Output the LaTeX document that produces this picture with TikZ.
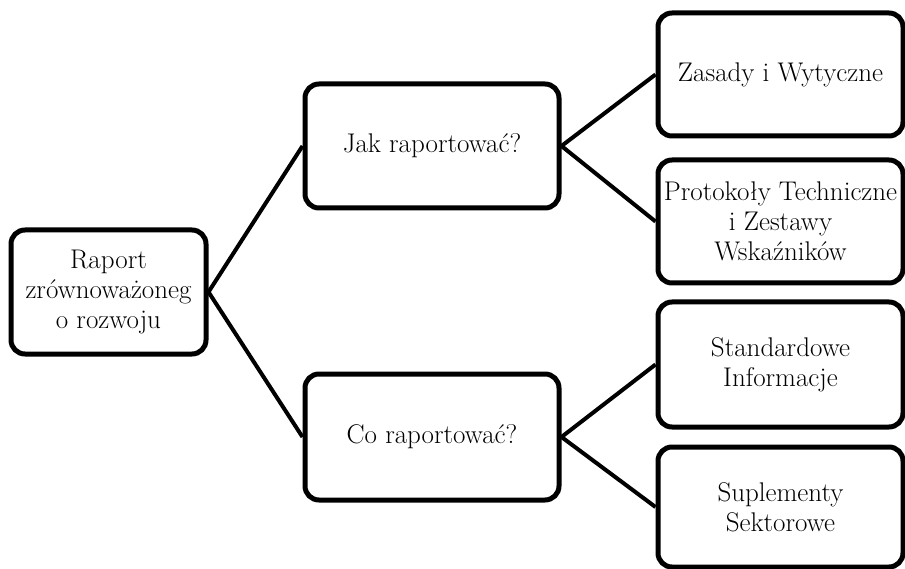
\documentclass[tikz,border=0pt]{standalone}
\usepackage{fontspec}
\begin{document}
\begin{tikzpicture}[x=1pt,y=-1pt,
  box/.style={draw=black, line width=5pt, rounded corners=14pt, fill=white,
    align=center, font=\fontsize{27}{30}\selectfont, inner sep=0pt},
  conn/.style={draw=black, line width=4pt}]
\useasboundingbox (0,0) rectangle (905,569);
\node[box, minimum width=195pt, minimum height=124pt] (root) at (108.5,292) {Raport\\zrównoważoneg\\o rozwoju};
\node[box, minimum width=254pt, minimum height=124pt] (jak) at (432,146) {Jak raportować?};
\node[box, minimum width=254pt, minimum height=126pt] (co) at (432,437) {Co raportować?};
\node[box, minimum width=245pt, minimum height=123pt] (l1) at (780.5,74.5) {Zasady i Wytyczne};
\node[box, minimum width=245pt, minimum height=123pt] (l2) at (780.5,221.5) {Protokoły Techniczne\\i Zestawy\\Wskaźników};
\node[box, minimum width=245pt, minimum height=125pt] (l3) at (780.5,364.5) {Standardowe\\Informacje};
\node[box, minimum width=245pt, minimum height=120pt] (l4) at (780.5,507) {Suplementy\\Sektorowe};
\draw[conn] (root.east) -- (jak.west);
\draw[conn] (root.east) -- (co.west);
\draw[conn] (jak.east) -- (l1.west);
\draw[conn] (jak.east) -- (l2.west);
\draw[conn] (co.east) -- (l3.west);
\draw[conn] (co.east) -- (l4.west);
\end{tikzpicture}
\end{document}
